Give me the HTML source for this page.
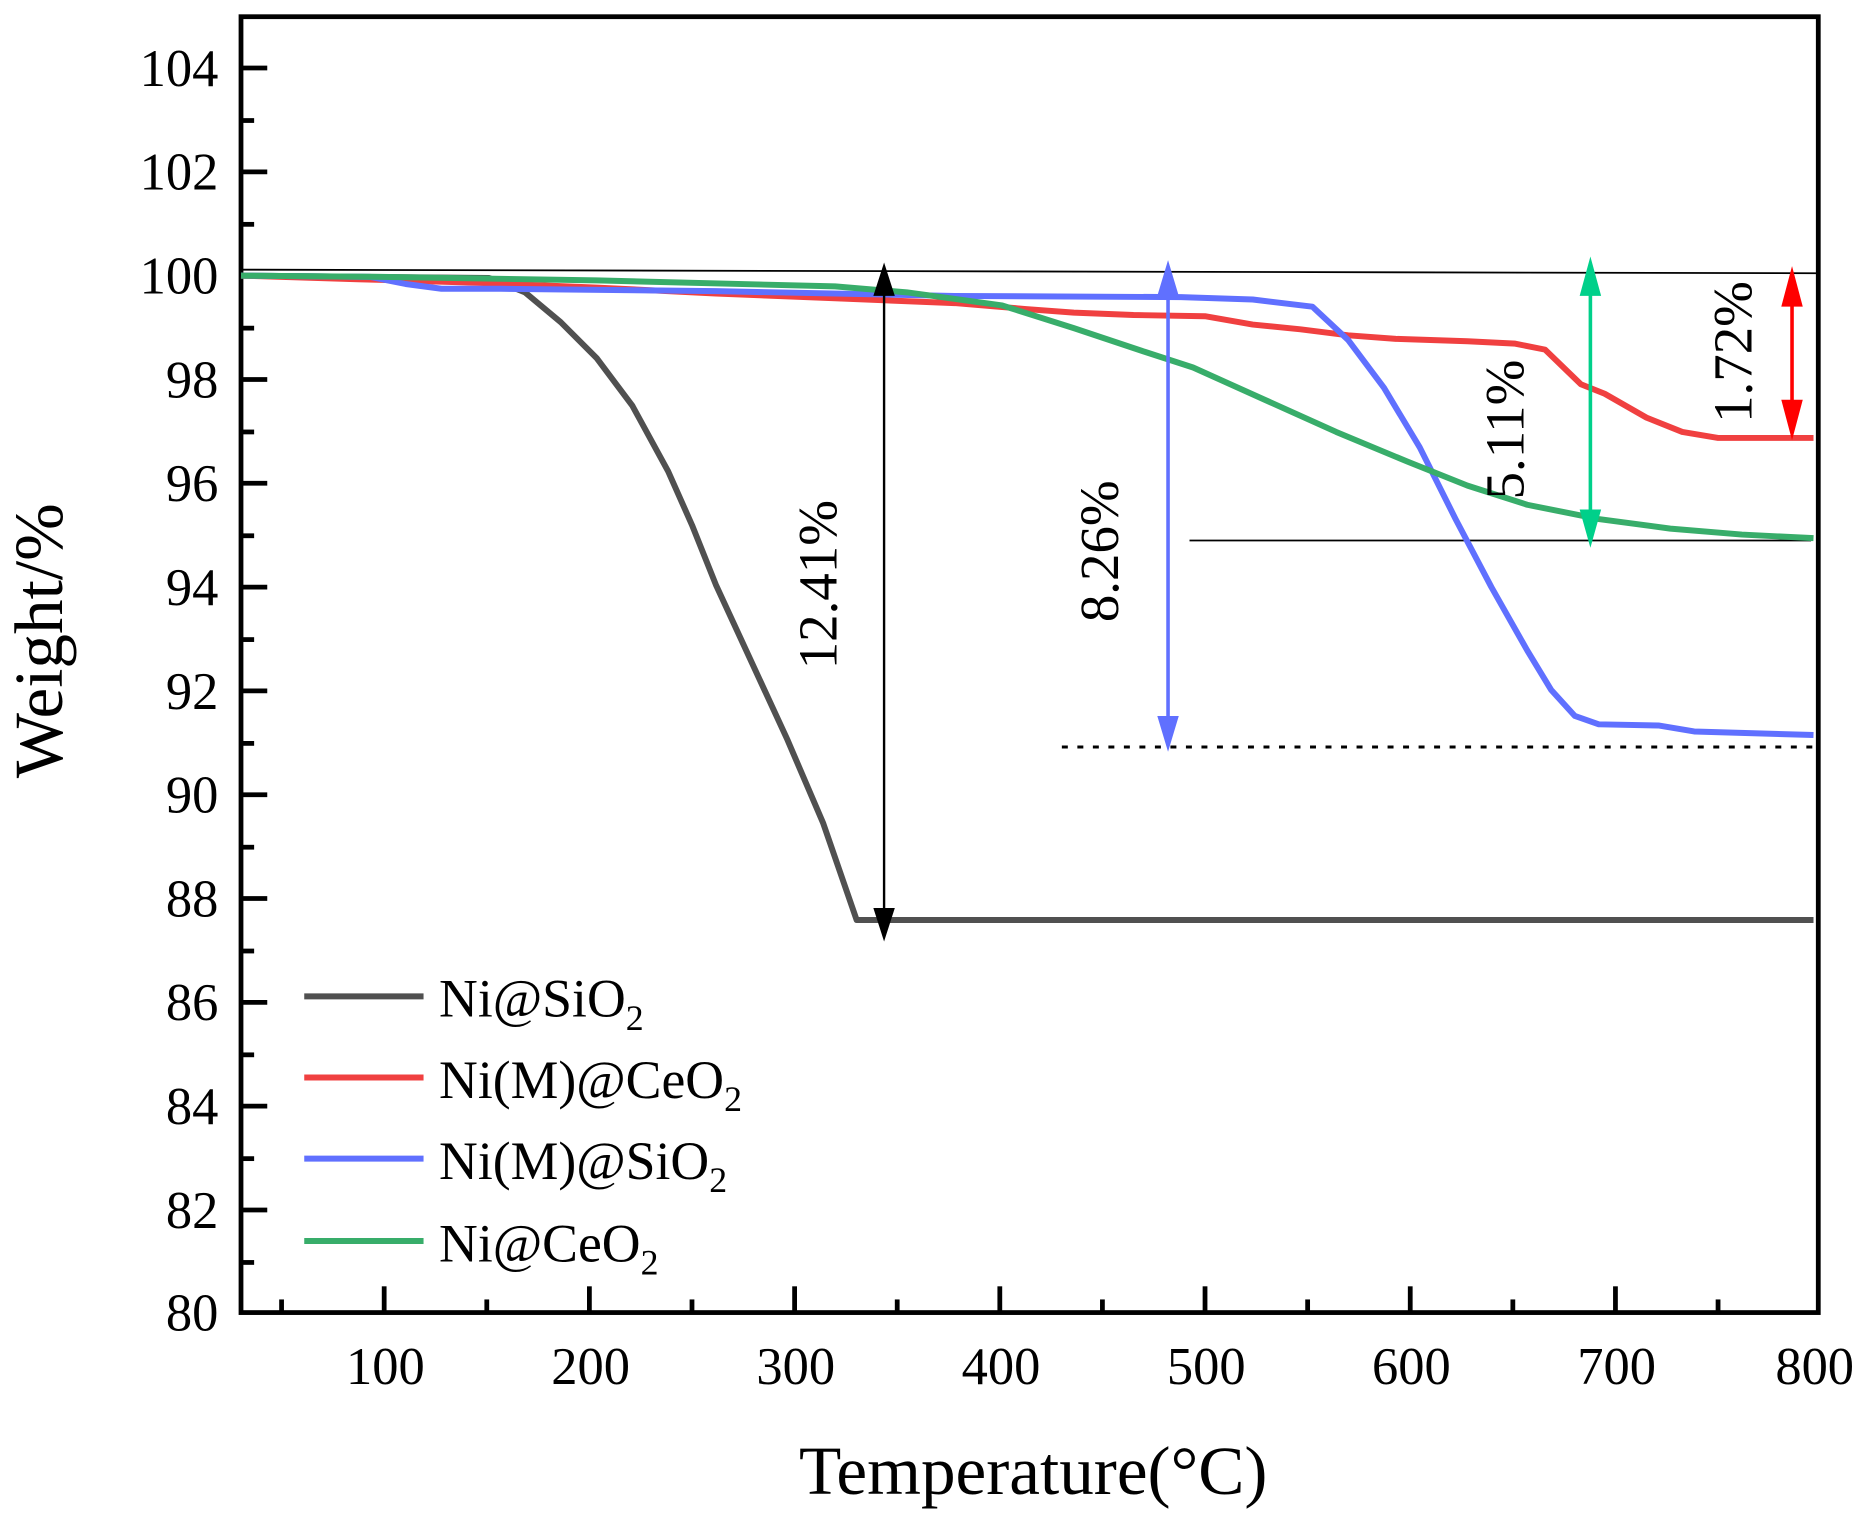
<!DOCTYPE html>
<html><head><meta charset="utf-8"><style>
html,body{margin:0;padding:0;background:#fff;}
svg{display:block;}
text{font-family:"Liberation Serif",serif;fill:#000;}
</style></head><body>
<svg width="1866" height="1519" viewBox="0 0 1564 1273" preserveAspectRatio="none" xmlns="http://www.w3.org/2000/svg">
<rect x="202" y="14" width="1322" height="1086" fill="none" stroke="#000" stroke-width="4"/>
<g stroke="#000" stroke-width="4">
<line x1="202" x2="224" y1="57" y2="57"/><line x1="202" x2="213" y1="101" y2="101"/>
<line x1="202" x2="224" y1="144" y2="144"/><line x1="202" x2="213" y1="188" y2="188"/>
<line x1="202" x2="224" y1="231" y2="231"/><line x1="202" x2="213" y1="275" y2="275"/>
<line x1="202" x2="224" y1="318" y2="318"/><line x1="202" x2="213" y1="362" y2="362"/>
<line x1="202" x2="224" y1="405" y2="405"/><line x1="202" x2="213" y1="449" y2="449"/>
<line x1="202" x2="224" y1="492" y2="492"/><line x1="202" x2="213" y1="536" y2="536"/>
<line x1="202" x2="224" y1="579" y2="579"/><line x1="202" x2="213" y1="623" y2="623"/>
<line x1="202" x2="224" y1="666" y2="666"/><line x1="202" x2="213" y1="710" y2="710"/>
<line x1="202" x2="224" y1="753" y2="753"/><line x1="202" x2="213" y1="797" y2="797"/>
<line x1="202" x2="224" y1="840" y2="840"/><line x1="202" x2="213" y1="884" y2="884"/>
<line x1="202" x2="224" y1="927" y2="927"/><line x1="202" x2="213" y1="971" y2="971"/>
<line x1="202" x2="224" y1="1014" y2="1014"/><line x1="202" x2="213" y1="1058" y2="1058"/>
<line x1="236" x2="236" y1="1100" y2="1089"/><line x1="322" x2="322" y1="1100" y2="1078"/>
<line x1="408" x2="408" y1="1100" y2="1089"/><line x1="494" x2="494" y1="1100" y2="1078"/>
<line x1="580" x2="580" y1="1100" y2="1089"/><line x1="666" x2="666" y1="1100" y2="1078"/>
<line x1="752" x2="752" y1="1100" y2="1089"/><line x1="838" x2="838" y1="1100" y2="1078"/>
<line x1="924" x2="924" y1="1100" y2="1089"/><line x1="1010" x2="1010" y1="1100" y2="1078"/>
<line x1="1096" x2="1096" y1="1100" y2="1089"/><line x1="1182" x2="1182" y1="1100" y2="1078"/>
<line x1="1268" x2="1268" y1="1100" y2="1089"/><line x1="1354" x2="1354" y1="1100" y2="1078"/>
<line x1="1440" x2="1440" y1="1100" y2="1089"/>
</g>
<g font-size="44" text-anchor="end">
<text x="183" y="72">104</text><text x="183" y="159">102</text><text x="183" y="246">100</text>
<text x="183" y="333">98</text><text x="183" y="420">96</text><text x="183" y="507">94</text>
<text x="183" y="594">92</text><text x="183" y="681">90</text><text x="183" y="768">88</text>
<text x="183" y="855">86</text><text x="183" y="942">84</text><text x="183" y="1029">82</text>
<text x="183" y="1115">80</text>
</g>
<g font-size="44" text-anchor="middle">
<text x="323" y="1160">100</text><text x="495" y="1160">200</text><text x="667" y="1160">300</text>
<text x="839" y="1160">400</text><text x="1011" y="1160">500</text><text x="1183" y="1160">600</text>
<text x="1355" y="1160">700</text><text x="1521" y="1160">800</text>
</g>
<text x="866" y="1252" font-size="58" text-anchor="middle">Temperature(°C)</text>
<text transform="translate(52,537) rotate(-90)" font-size="58" text-anchor="middle">Weight/%</text>

<line x1="202" y1="226" x2="1524" y2="229" stroke="#000" stroke-width="1.5"/>
<line x1="997" y1="453" x2="1518" y2="453" stroke="#000" stroke-width="1.5"/>
<line x1="890" y1="626" x2="1522" y2="626" stroke="#000" stroke-width="2.5" stroke-dasharray="5,8"/>

<g fill="none" stroke-width="5" stroke-linejoin="round">
<polyline stroke="#505050" points="202,231 410,233 440,245 470,270 500,300 530,340 560,395 580,440 600,490 630,555 660,620 690,690 718,771 740,771 1520,771"/>
<polyline stroke="#f04040" points="202,231 300,234 400,237 500,241 600,246 700,250 800,254 860,259 900,262 950,264 1010,265 1050,272 1090,276 1130,281 1170,284 1230,286 1270,288 1295,293 1325,322 1345,330 1380,350 1410,362 1440,367 1520,367"/>
<polyline stroke="#6070ff" points="202,231 310,232 340,238 370,242 420,242 600,244 800,248 990,249 1050,251 1100,257 1130,285 1160,325 1190,375 1220,435 1250,492 1280,545 1300,578 1320,600 1340,607 1390,608 1420,613 1520,616"/>
<polyline stroke="#38ad6a" points="202,231 320,232 500,235 700,240 760,245 840,256 900,275 960,295 1000,308 1060,335 1120,362 1180,387 1230,407 1280,423 1340,435 1400,443 1460,448 1520,451"/>
</g>

<g stroke-width="2">
<line x1="741" y1="236" x2="741" y2="774" stroke="#000"/>
<path d="M741,220 L732,248 L750,248 Z M741,789 L732,761 L750,761 Z" fill="#000" stroke="none"/>
<line x1="979" y1="235" x2="979" y2="613" stroke="#6070ff" stroke-width="3"/>
<path d="M979,218 L970,248 L988,248 Z M979,630 L970,600 L988,600 Z" fill="#6070ff" stroke="none"/>
<line x1="1333" y1="232" x2="1333" y2="442" stroke="#00d08a" stroke-width="3"/>
<path d="M1333,215 L1324,248 L1342,248 Z M1333,459 L1324,427 L1342,427 Z" fill="#00d08a" stroke="none"/>
<line x1="1502" y1="240" x2="1502" y2="352" stroke="#ff0000" stroke-width="3"/>
<path d="M1502,223 L1493,257 L1511,257 Z M1502,369 L1493,335 L1511,335 Z" fill="#ff0000" stroke="none"/>
</g>

<g font-size="46" text-anchor="middle">
<text transform="translate(701,490) rotate(-90)">12.41%</text>
<text transform="translate(937,462) rotate(-90)">8.26%</text>
<text transform="translate(1277,360) rotate(-90)">5.11%</text>
<text transform="translate(1468,295) rotate(-90)">1.72%</text>
</g>

<g stroke-width="5">
<line x1="255" x2="355" y1="835" y2="835" stroke="#505050"/>
<line x1="255" x2="355" y1="903" y2="903" stroke="#f04040"/>
<line x1="255" x2="355" y1="971" y2="971" stroke="#6070ff"/>
<line x1="255" x2="355" y1="1040" y2="1040" stroke="#38ad6a"/>
</g>
<g font-size="45">
<text x="368" y="852">Ni@SiO<tspan font-size="30" dy="11">2</tspan></text>
<text x="368" y="920">Ni(M)@CeO<tspan font-size="30" dy="11">2</tspan></text>
<text x="368" y="988">Ni(M)@SiO<tspan font-size="30" dy="11">2</tspan></text>
<text x="368" y="1057">Ni@CeO<tspan font-size="30" dy="11">2</tspan></text>
</g>
</svg>
</body></html>
